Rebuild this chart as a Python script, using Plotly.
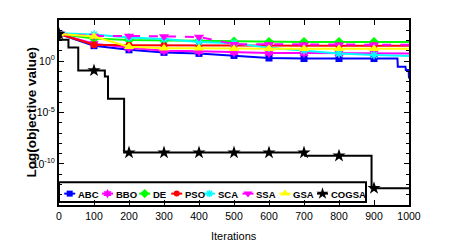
import plotly.graph_objects as go

# ---------------- data (log10 of objective value) ----------------
ticks_x = list(range(0, 1001, 100))
ytick_vals = [1e0, 1e-5, 1e-10]
ytick_text = ["10<sup>0</sup>", "10<sup>-5</sup>", "10<sup>-10</sup>"]

abc_it = [0, 100, 200, 300, 400, 500, 600, 700, 800, 900, 967, 968, 990, 991, 999, 1000]
abc_log = [2.65, 1.5, 1.1, 0.85, 0.75, 0.55, 0.3, 0.25, 0.25, 0.25, 0.25, -0.55, -0.55, -0.87, -0.87, -1.7]

bbo_it = [0, 100, 200, 300, 400, 500, 600, 700, 800, 900, 1000]
bbo_log = [2.65, 1.7, 1.3, 1.0, 0.95, 0.85, 0.8, 0.78, 0.76, 0.75, 0.75]

de_it = [0, 100, 200, 300, 400, 500, 600, 700, 800, 900, 1000]
de_log = [2.65, 2.2, 2.05, 2.0, 1.95, 1.9, 1.85, 1.85, 1.85, 1.85, 1.85]

pso_it = [0, 100, 200, 300, 400, 500, 600, 700, 800, 900, 1000]
pso_log = [2.65, 1.6, 1.55, 1.53, 1.52, 1.5, 1.5, 1.5, 1.5, 1.5, 1.5]

sca_it = [0, 100, 200, 300, 400, 500, 600, 700, 800, 900, 1000]
sca_log = [2.7, 2.6, 2.3, 2.15, 1.85, 1.75, 1.3, 1.05, 0.75, 0.6, 0.5]

ssa_it = [0, 100, 200, 300, 400, 500, 600, 700, 800, 900, 1000]
ssa_log = [2.65, 2.45, 2.45, 2.4, 2.35, 1.65, 1.62, 1.6, 1.6, 1.6, 1.6]

gsa_it = [0, 100, 200, 300, 400, 500, 600, 700, 800, 900, 1000]
gsa_log = [2.65, 2.4, 1.4, 1.25, 1.25, 1.2, 1.2, 1.2, 1.2, 1.2, 1.2]

cogsa_it = [0, 2, 27, 55, 100, 131, 140, 186, 200, 300, 400, 500, 600, 700, 703, 800, 893, 900, 1000]
cogsa_log = [2.65, 2.08, 1.33, -0.91, -0.91, -1.49, -3.67, -8.9, -8.9, -8.9, -8.9, -8.9, -8.9, -8.9,
             -9.21, -9.21, -12.36, -12.36, -12.36]

names = ["ABC", "BBO", "DE", "PSO", "SCA", "SSA", "GSA", "COGSA"]
# ---------------- styles ----------------
series = [
    (abc_it, abc_log, "#0000FF", "square", "solid", "linear", 7),
    (bbo_it, bbo_log, "#FF00FF", "hexagram", "solid", "linear", 8),
    (de_it, de_log, "#00FF00", "diamond", "solid", "linear", 8),
    (pso_it, pso_log, "#FF0000", "circle", "solid", "linear", 7),
    (sca_it, sca_log, "#00FFFF", "asterisk", "solid", "linear", 7),
    (ssa_it, ssa_log, "#FF00FF", "triangle-down", "dash", "linear", 9),
    (gsa_it, gsa_log, "#FFFF00", "triangle-up", "solid", "linear", 9),
    (cogsa_it, cogsa_log, "#000000", "star", "solid", "hv", 10),
]

FONT = "Liberation Sans, Arial, sans-serif"

fig = go.Figure()
for name, (xs, ls, col, sym, dash, shape, msz) in zip(names, series):
    ys = [10 ** v for v in ls]
    sizes = [msz if (x % 100 == 0 and x < 1000) else 0 for x in xs]
    fig.add_trace(go.Scatter(
        x=xs, y=ys, mode="lines+markers", name=name, showlegend=False,
        line=dict(color=col, width=2, dash=dash, shape=shape),
        marker=dict(symbol=sym, size=sizes, color=col, opacity=1,
                    line=dict(color=col, width=1.5 if sym == "asterisk" else 0)),
    ))

# ---------------- manual legend (pixel offsets inside plot area) ----------------
leg_cx = [10.7, 48.5, 85.7, 117.7, 150.5, 189, 226, 263.5]
leg_y = 175.5
for name, cx, (xs, ls, col, sym, dash, shape, msz) in zip(names, leg_cx, series):
    fig.add_trace(go.Scatter(
        x=[cx - 5.5, cx + 5.5], y=[leg_y, leg_y], mode="lines", xaxis="x2", yaxis="y2",
        showlegend=False, hoverinfo="skip",
        line=dict(color=col, width=2),
    ))
    fig.add_trace(go.Scatter(
        x=[cx], y=[leg_y], mode="markers", xaxis="x2", yaxis="y2",
        showlegend=False, hoverinfo="skip",
        marker=dict(symbol=sym, size=msz - 1, color=col, opacity=1,
                    line=dict(color=col, width=1.5 if sym == "asterisk" else 0)),
    ))
    fig.add_annotation(x=cx + 6, y=leg_y + 0.5, xref="x2", yref="y2", text=name,
                       showarrow=False, xanchor="left", yanchor="middle",
                       font=dict(family=FONT, size=9.5, color="black", weight="bold"))

fig.add_shape(type="rect", xref="x2", yref="y2", x0=0, x1=307, y0=164, y1=184,
              line=dict(color="black", width=2), fillcolor="white", layer="below")

axis_common = dict(showline=True, linecolor="black", linewidth=2, mirror="ticks",
                   ticks="inside", tickcolor="black", showgrid=False, zeroline=False,
                   tickfont=dict(family=FONT, size=10.5, color="black"))

# page body has an 8px margin: figure is sized/margined so the plot area sits at x 59-409, y 18-205
fig.update_layout(
    width=444, height=237,
    margin=dict(l=51, r=43, t=10, b=40),
    paper_bgcolor="white", plot_bgcolor="white",
    xaxis=dict(range=[0, 1000], tickvals=ticks_x, ticklen=5, **axis_common),
    yaxis=dict(type="log", range=[-14, 4], tickvals=ytick_vals, ticktext=ytick_text,
               ticklen=5, minor=dict(tickvals=[10 ** k for k in range(-14, 5)], ticklen=3,
                                     ticks="inside", tickcolor="black"),
               **axis_common),
    xaxis2=dict(overlaying="x", range=[0, 350], visible=False, anchor="y2"),
    yaxis2=dict(overlaying="y", range=[187, 0], visible=False, anchor="x2"),
    showlegend=False,
)

fig.add_annotation(x=0.5, y=-0.17, xref="paper", yref="paper", text="Iterations",
                   showarrow=False, xanchor="center", yanchor="middle",
                   font=dict(family=FONT, size=11, color="black"))
fig.add_annotation(x=-0.08, y=0.5, xref="paper", yref="paper", text="Log(objective value)",
                   showarrow=False, xanchor="center", yanchor="middle", textangle=-90,
                   font=dict(family=FONT, size=13.5, color="black", weight="bold"))

fig.write_html("out.html")
